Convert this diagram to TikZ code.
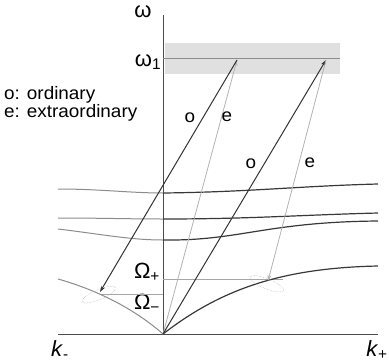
\documentclass[tikz,border=0pt]{standalone}
\usepackage{fontspec}
\setmainfont{Liberation Sans}
\usetikzlibrary{arrows.meta}

\begin{document}
\begin{tikzpicture}[x=1pt, y=-1pt,
			>={Stealth[length=6pt,width=4pt]},   %arrow tips
			font=\fontsize{18}{19}\selectfont,
			lbl/.style={inner sep=0pt, xscale=1.05},
			sym/.style={inner sep=0pt, font=\fontsize{22}{22}\selectfont},
			branch/.style={line width=1.2pt, black!78},
			ghost/.style={line width=1pt, black!45},
			pump/.style={->, line width=1pt, black!80},
			signal/.style={->, line width=0.8pt, black!30},
			halo/.style={densely dotted, black!30, line width=0.5pt}]
			\useasboundingbox (0,0) rectangle (389,362);
			% band around omega_1
			\fill[black!12] (165,43) rectangle (340,74);
			% axes
			\coordinate (O) at (163,334);
			\coordinate (top) at (163,15);
			\coordinate (kl) at (58,334);
			\coordinate (kr) at (378,334);
			\draw[line width=1pt, black!70] (O) -- (top);
			\draw[line width=1pt, black!70] (kl) -- (kr);
			\node[sym] (w) at (143,12) {ω};
			\node[sym] (w1) at (148,62) {ω\textsubscript{1}};
			\node[sym] (km) at (60,350) {\textit{k}\textsubscript{-}};
			\node[sym] (kp) at (377,350) {\textit{k}\textsubscript{+}};
			% level lines
			\coordinate (w1r) at (340,58);
			\draw[black!45, line width=0.8pt] (163,58) -- (w1r);
			\node[sym] (Op) at (147,272) {Ω\textsubscript{+}};
			\node[sym] (Om) at (147,303) {Ω\textsubscript{−}};
			\draw[black!35, line width=0.8pt] (163,279) -- (283,279);
			\draw[black!35, line width=0.8pt] (100,294) -- (163,294);
			% dispersion branches, k_+ side
			\draw[branch] (163,193) .. controls (250,192) and (300,186) .. (378,184);
			\draw[branch] (163,219) .. controls (250,219) and (300,215) .. (378,213);
			\draw[branch] (163,240) .. controls (240,241) and (265,222) .. (378,221);
			\draw[branch] (O) .. controls (220,290) and (280,268) .. (378,266);
			% dispersion branches, k_- side
			\draw[ghost] (58,189) .. controls (100,189) and (130,193) .. (163,193);
			\draw[ghost] (58,218) .. controls (100,218) and (130,219) .. (163,219);
			\draw[ghost] (58,229) .. controls (100,234) and (130,240) .. (163,240);
			\draw[ghost] (58,279) .. controls (90,288) and (130,305) .. (O);
			% end points
			\coordinate (A) at (237,60);
			\coordinate (B) at (326,60);
			\coordinate (Lm) at (100,292);
			\coordinate (Lp) at (268,281);
			\draw[halo, rotate around={23:(Lm)}] (98,294) ellipse [x radius=18, y radius=5];
			\draw[halo, rotate around={-22:(Lp)}] (268,284) ellipse [x radius=18, y radius=5];
			% transitions
			\draw[signal] (O) -- (A);
			\draw[pump] (A) -- (Lm);
			\draw[pump] (O) -- (B);
			\draw[signal] (B) -- (Lp);
			\node[lbl] (o1) at (190,118) {o};
			\node[lbl] (e1) at (227,117) {e};
			\node[lbl] (o2) at (251,164) {o};
			\node[lbl] (e2) at (310,163) {e};
			% legend
			\node[lbl, anchor=west] (leg1) at (4,95) {o: ordinary};
			\node[lbl, anchor=west] (leg2) at (4,113) {e: extraordinary};
\end{tikzpicture}
\end{document}
